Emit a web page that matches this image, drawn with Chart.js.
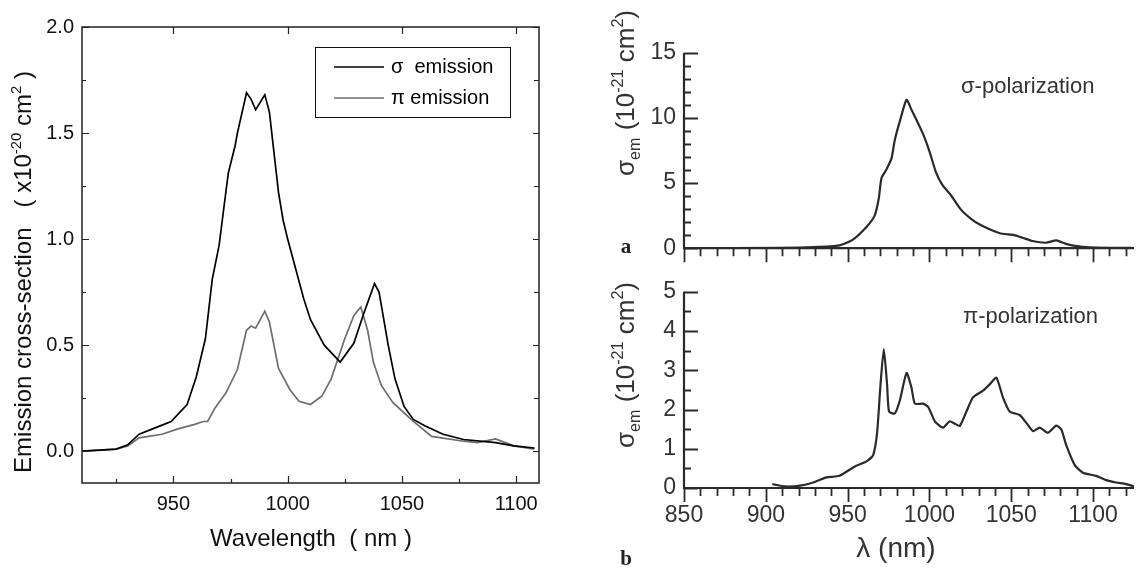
<!DOCTYPE html>
<html>
<head>
<meta charset="utf-8">
<script src="https://cdn.jsdelivr.net/npm/chart.js@4.4.1/dist/chart.umd.min.js"></script>
<style>
  body { margin: 0; background: #fff; width: 1139px; height: 570px; overflow: hidden; position: relative; }
  canvas { position: absolute; }
</style>
</head>
<body>
<canvas id="cL" width="560" height="570" style="left:0;top:0"></canvas>
<canvas id="cA" width="549" height="270" style="left:590px;top:0"></canvas>
<canvas id="cB" width="549" height="300" style="left:590px;top:270px"></canvas>
<script>
// left panel: emission cross-section (x10^-20 cm2)
const wlSigma = [910, 918, 925, 930, 935, 942, 949, 956, 960, 964, 967, 970, 974, 977, 978, 982, 984, 986, 990, 992, 996, 998, 1000, 1004, 1007, 1010, 1016, 1023, 1029, 1033, 1038, 1040, 1044, 1047, 1051, 1055, 1060, 1068, 1077, 1091, 1099, 1108];
const sigmaEm = [0, 0.005, 0.01, 0.03, 0.08, 0.11, 0.14, 0.22, 0.35, 0.53, 0.81, 0.97, 1.31, 1.44, 1.50, 1.69, 1.66, 1.61, 1.68, 1.60, 1.22, 1.09, 1.00, 0.84, 0.72, 0.62, 0.50, 0.42, 0.51, 0.64, 0.79, 0.75, 0.50, 0.34, 0.21, 0.15, 0.12, 0.08, 0.055, 0.04, 0.025, 0.015];
const wlPi = [910, 925, 930, 935, 945, 952, 959, 963, 965, 968, 973, 978, 982, 984, 986, 990, 992, 996, 1001, 1005, 1010, 1015, 1019, 1025, 1029, 1032, 1035, 1037.5, 1041, 1046, 1054, 1063, 1077, 1083, 1091, 1099, 1108];
const piEm = [0, 0.01, 0.025, 0.063, 0.08, 0.105, 0.125, 0.14, 0.14, 0.20, 0.275, 0.385, 0.57, 0.59, 0.58, 0.66, 0.61, 0.39, 0.29, 0.235, 0.22, 0.26, 0.34, 0.53, 0.64, 0.68, 0.57, 0.42, 0.31, 0.23, 0.15, 0.07, 0.047, 0.04, 0.058, 0.025, 0.01];
const xMajorL = [950, 1000, 1050, 1100];
const xMinorL = [925, 975, 1025, 1075];
const yMajorL = [0, 0.5, 1.0, 1.5, 2.0];
const yMinorL = [0.25, 0.75, 1.25, 1.75];

// right panel a: sigma-polarization (10^-21 cm2)
const wlA = [850, 908, 929, 945, 953, 961.5, 966.5, 969, 970.7, 973.7, 976.8, 978.8, 982, 986, 989, 996, 1000, 1004, 1008, 1013, 1019, 1025, 1031, 1043, 1051, 1057, 1063, 1071, 1077.5, 1083, 1088, 1098, 1124];
const semA = [0, 0.03, 0.08, 0.22, 0.64, 1.63, 2.5, 3.8, 5.4, 6.05, 6.9, 8.3, 9.8, 11.4, 10.65, 8.8, 7.44, 5.83, 4.84, 4.09, 3.0, 2.3, 1.8, 1.15, 1.02, 0.8, 0.55, 0.42, 0.6, 0.35, 0.2, 0.07, 0.02];
const yMajorA = [0, 5, 10, 15];
const yMinorA = [1, 2, 3, 4, 6, 7, 8, 9, 11, 12, 13, 14];

// right panel b: pi-polarization (10^-21 cm2)
const wlB = [904, 912, 921, 929, 937, 945, 954.4, 961.5, 965.6, 968, 970.1, 972.1, 974.1, 975.3, 978.8, 981.9, 986, 989, 991.1, 996.1, 999.2, 1003.3, 1008.3, 1012.4, 1015.5, 1018.5, 1022.6, 1026.6, 1032.7, 1036.8, 1040.9, 1044.9, 1049, 1055.1, 1059.2, 1063.3, 1067.3, 1072.4, 1077.5, 1080.6, 1083.6, 1088.7, 1093.8, 1101.9, 1108, 1114.1, 1120.2, 1125];
const semB = [0.1, 0.04, 0.06, 0.14, 0.27, 0.31, 0.55, 0.68, 0.84, 1.41, 2.64, 3.54, 2.64, 1.95, 1.9, 2.23, 2.93, 2.56, 2.15, 2.15, 2.07, 1.70, 1.54, 1.70, 1.64, 1.58, 1.95, 2.31, 2.48, 2.64, 2.81, 2.31, 1.95, 1.86, 1.66, 1.45, 1.54, 1.41, 1.59, 1.49, 1.09, 0.59, 0.39, 0.31, 0.2, 0.14, 0.1, 0.04];
const yMajorB = [0, 1, 2, 3, 4, 5];
const yMinorB = [0.5, 1.5, 2.5, 3.5, 4.5];
const xMajorR = [850, 900, 950, 1000, 1050, 1100];
const xMinorR = [860, 870, 880, 890, 910, 920, 930, 940, 960, 970, 980, 990, 1010, 1020, 1030, 1040, 1060, 1070, 1080, 1090, 1110, 1120];

const FONT = "'Liberation Sans', Arial, Helvetica, sans-serif";
const SERIF = "'Liberation Serif', 'Times New Roman', serif";
const pts = (xs, ys) => xs.map((x, i) => ({ x: x, y: ys[i] }));

// rich text: runs with sup / sub, optionally rotated
function drawRich(ctx, t) {
  const s = t.size;
  const parts = t.runs.map(r => {
    const sz = r.sup || r.sub ? s * 0.62 : s;
    ctx.font = (t.weight || '') + ' ' + sz + 'px ' + (t.family || FONT);
    return { text: r.t, sz: sz, w: ctx.measureText(r.t).width, dy: r.sup ? -s * 0.42 : (r.sub ? s * 0.22 : 0) };
  });
  const total = parts.reduce((a, p) => a + p.w, 0);
  ctx.save();
  ctx.translate(t.x, t.y);
  if (t.rot) ctx.rotate(t.rot);
  ctx.fillStyle = t.color || '#000';
  ctx.textBaseline = 'alphabetic';
  let cx = t.align === 'left' ? 0 : -total / 2;
  parts.forEach(p => {
    ctx.font = (t.weight || '') + ' ' + p.sz + 'px ' + (t.family || FONT);
    ctx.fillText(p.text, cx, s * 0.36 + p.dy);
    cx += p.w;
  });
  ctx.restore();
}

// axes lines, tick marks, legend and free texts
const deco = {
  id: 'deco',
  afterDraw(chart, args, o) {
    const ctx = chart.ctx, a = chart.chartArea;
    const sx = chart.scales.x, sy = chart.scales.y;
    ctx.save();
    ctx.strokeStyle = o.color;
    ctx.lineWidth = o.lineWidth;
    ctx.beginPath();
    if (o.box) {
      ctx.rect(a.left, a.top, a.right - a.left, a.bottom - a.top);
    } else {
      ctx.moveTo(a.left, a.top); ctx.lineTo(a.left, a.bottom); ctx.lineTo(a.right, a.bottom);
    }
    ctx.stroke();
    ctx.lineWidth = o.tickWidth;
    ctx.beginPath();
    o.ticks.forEach(tk => {
      tk.values.forEach(v => {
        if (tk.edge === 'bottom' || tk.edge === 'top') {
          const px = Math.round(sx.getPixelForValue(v)) + 0.5;
          const y0 = tk.edge === 'bottom' ? a.bottom : a.top;
          const dir = tk.edge === 'bottom' ? -1 : 1;
          ctx.moveTo(px, y0); ctx.lineTo(px, y0 + dir * tk.len);
        } else {
          const py = Math.round(sy.getPixelForValue(v)) + 0.5;
          const x0 = tk.edge === 'left' ? a.left : a.right;
          const dir = tk.edge === 'left' ? 1 : -1;
          ctx.moveTo(x0, py); ctx.lineTo(x0 + dir * tk.len, py);
        }
      });
    });
    ctx.stroke();
    if (o.legend) {
      const L = o.legend;
      ctx.lineWidth = 1;
      ctx.strokeStyle = '#111';
      ctx.strokeRect(L.x + 0.5, L.y + 0.5, L.w, L.h);
      chart.data.datasets.forEach((ds, i) => {
        const yy = L.y + L.first + i * L.gap;
        ctx.strokeStyle = ds.borderColor;
        ctx.lineWidth = ds.borderWidth;
        ctx.beginPath(); ctx.moveTo(L.x + 19, yy); ctx.lineTo(L.x + 69, yy); ctx.stroke();
        ctx.fillStyle = '#000';
        ctx.font = L.size + 'px ' + FONT;
        ctx.textBaseline = 'middle';
        ctx.fillText(ds.label, L.x + 76, yy);
      });
    }
    (o.texts || []).forEach(t => drawRich(ctx, t));
    ctx.restore();
  }
};

function makeChart(id, datasets, cfg) {
  return new Chart(document.getElementById(id), {
    type: 'scatter',
    data: { datasets: datasets },
    plugins: [deco],
    options: {
      responsive: false,
      animation: false,
      events: [],
      layout: { padding: cfg.padding },
      plugins: { legend: { display: false }, tooltip: { enabled: false }, deco: cfg.deco },
      scales: {
        x: {
          type: 'linear', min: cfg.xMin, max: cfg.xMax,
          grid: { display: false, drawTicks: false }, border: { display: false },
          afterBuildTicks: s => { s.ticks = cfg.xTicks.map(v => ({ value: v })); },
          afterFit: s => { s.height = cfg.xHeight; },
          ticks: { display: cfg.xLabels, font: { size: cfg.tickSize, family: FONT }, color: cfg.tickColor, padding: cfg.xPad, maxRotation: 0, autoSkip: false, callback: v => String(v) }
        },
        y: {
          type: 'linear', min: cfg.yMin, max: cfg.yMax,
          grid: { display: false, drawTicks: false }, border: { display: false },
          afterBuildTicks: s => { s.ticks = cfg.yTicks.map(v => ({ value: v })); },
          afterFit: s => { s.width = cfg.yWidth; },
          ticks: { font: { size: cfg.tickSize, family: FONT }, color: cfg.tickColor, padding: cfg.yPad, callback: cfg.yFmt, autoSkip: false }
        }
      }
    }
  });
}

// left chart
makeChart('cL', [
  { label: 'σ  emission', data: pts(wlSigma, sigmaEm), showLine: true, borderColor: '#000', borderWidth: 1.7, pointRadius: 0, tension: 0 },
  { label: 'π emission', data: pts(wlPi, piEm), showLine: true, borderColor: '#6e6e6e', borderWidth: 1.7, pointRadius: 0, tension: 0 }
], {
  padding: { top: 27, right: 21, left: 0, bottom: 0 },
  xMin: 910, xMax: 1110, yMin: -0.15, yMax: 2.0,
  xTicks: xMajorL, yTicks: yMajorL, xLabels: true,
  xHeight: 87, yWidth: 82, tickSize: 20, tickColor: '#111', xPad: 9, yPad: 8,
  yFmt: v => v.toFixed(1),
  deco: {
    box: true, color: '#222', lineWidth: 1.5, tickWidth: 1.2,
    ticks: [
      { edge: 'bottom', values: xMajorL, len: 7 }, { edge: 'bottom', values: xMinorL, len: 4 },
      { edge: 'top', values: xMajorL, len: 7 },
      { edge: 'left', values: yMajorL, len: 7 }, { edge: 'left', values: yMinorL, len: 4 },
      { edge: 'right', values: yMajorL, len: 6 }, { edge: 'right', values: yMinorL, len: 5 }
    ],
    legend: { x: 315, y: 47, w: 195, h: 70, first: 20, gap: 31, size: 20 },
    texts: [
      { runs: [{ t: 'Wavelength  ( nm )' }], x: 311, y: 537, size: 24, color: '#111' },
      { runs: [{ t: 'Emission cross-section   ( x10' }, { t: '-20', sup: true }, { t: ' cm' }, { t: '2', sup: true }, { t: ' )' }], x: 22, y: 272, size: 24, rot: -Math.PI / 2, color: '#111' }
    ]
  }
});

// right panel a
makeChart('cA', [
  { label: 'σ-polarization', data: pts(wlA, semA), showLine: true, borderColor: '#2a2a2a', borderWidth: 2.2, pointRadius: 0, tension: 0.2 }
], {
  padding: { top: 53, right: 5, left: 0, bottom: 0 },
  xMin: 850, xMax: 1125, yMin: 0, yMax: 15,
  xTicks: xMajorR, yTicks: yMajorA, xLabels: false,
  xHeight: 15, yWidth: 94, tickSize: 23, tickColor: '#333', xPad: 14, yPad: 8,
  yFmt: v => String(v),
  deco: {
    box: false, color: '#2a2a2a', lineWidth: 2.2, tickWidth: 1.8,
    ticks: [
      { edge: 'bottom', values: xMajorR, len: -14 }, { edge: 'bottom', values: xMinorR, len: -8 },
      { edge: 'left', values: yMajorA, len: 14 }, { edge: 'left', values: yMinorA, len: 7 }
    ],
    texts: [
      { runs: [{ t: 'σ-polarization' }], x: 371, y: 85, size: 22, align: 'left', color: '#333' },
      { runs: [{ t: 'σ' }, { t: 'em', sub: true }, { t: ' (10' }, { t: '-21', sup: true }, { t: ' cm' }, { t: '2', sup: true }, { t: ')' }], x: 35, y: 93, size: 26, rot: -Math.PI / 2, color: '#333' },
      { runs: [{ t: 'a' }], x: 36, y: 245, size: 21, weight: 'bold', family: SERIF, color: '#222' }
    ]
  }
});

// right panel b
makeChart('cB', [
  { label: 'π-polarization', data: pts(wlB, semB), showLine: true, borderColor: '#2a2a2a', borderWidth: 2.2, pointRadius: 0, tension: 0.2 }
], {
  padding: { top: 15, right: 5, left: 0, bottom: 0 },
  xMin: 850, xMax: 1125, yMin: 0, yMax: 5,
  xTicks: xMajorR, yTicks: yMajorB, xLabels: true,
  xHeight: 82, yWidth: 94, tickSize: 23, tickColor: '#333', xPad: 14, yPad: 8,
  yFmt: v => String(v),
  deco: {
    box: false, color: '#2a2a2a', lineWidth: 2.2, tickWidth: 1.8,
    ticks: [
      { edge: 'bottom', values: xMajorR, len: -14 }, { edge: 'bottom', values: xMinorR, len: -8 },
      { edge: 'left', values: yMajorB, len: 14 }, { edge: 'left', values: yMinorB, len: 7 }
    ],
    texts: [
      { runs: [{ t: 'π-polarization' }], x: 373, y: 45, size: 22, align: 'left', color: '#333' },
      { runs: [{ t: 'σ' }, { t: 'em', sub: true }, { t: ' (10' }, { t: '-21', sup: true }, { t: ' cm' }, { t: '2', sup: true }, { t: ')' }], x: 35, y: 95, size: 26, rot: -Math.PI / 2, color: '#333' },
      { runs: [{ t: 'λ (nm)' }], x: 306, y: 277, size: 28, color: '#333' },
      { runs: [{ t: 'b' }], x: 36, y: 287, size: 21, weight: 'bold', family: SERIF, color: '#222' }
    ]
  }
});
</script>
</body>
</html>
